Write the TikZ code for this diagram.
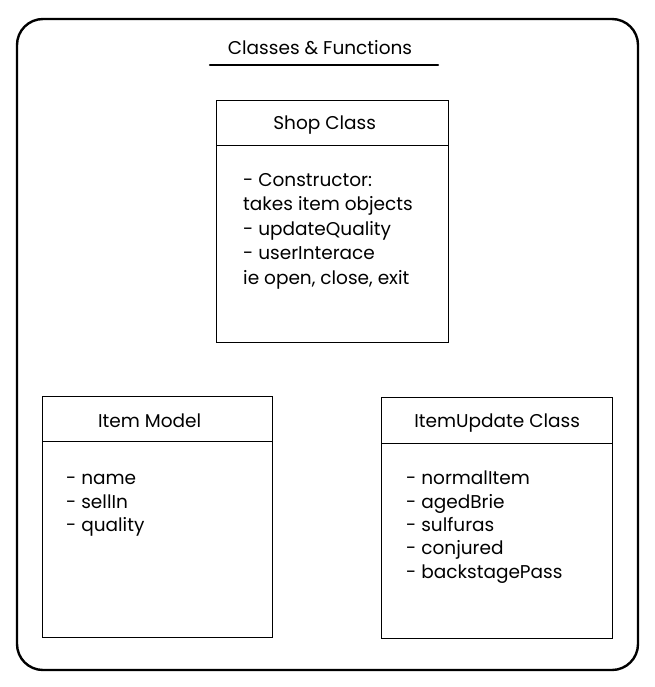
\documentclass[tikz,border=0pt]{standalone}
\usepackage{fontspec}
\setmainfont{Poppins}
\begin{document}
\begin{tikzpicture}[x=1pt,y=-1pt,
  frame/.style={draw=black, line width=2.4pt, rounded corners=26pt},
  rule/.style={draw=black, line width=2.4pt, line cap=round},
  head/.style={draw=black, line width=1.3pt, anchor=north west, inner sep=0pt,
    minimum width=#1, minimum height=45pt},
  body/.style={draw=black, line width=1.3pt, anchor=north west, inner sep=0pt,
    minimum width=#1},
  label text/.style={inner sep=0pt, yshift=-2pt, font=\fontsize{18.5}{22}\selectfont},
  entry/.style={anchor=base west, inner sep=0pt, font=\fontsize{18.5}{22}\selectfont},
  titletext/.style={anchor=base, inner sep=0pt, font=\fontsize{18.5}{22}\selectfont}
]
\useasboundingbox (0,0) rectangle (654,687);

% outer frame
\draw[frame] (17,19) rectangle (638,670);

% heading with underline
\node[titletext] (title) at (320,54.5) {Classes \& Functions};
\coordinate (ulL) at (210,65);
\coordinate (ulR) at (438,65);
\draw[rule] (ulL) -- (ulR);

% Shop class
\node[head=232pt] (shopH) at (216,100) {};
\node[label text, xshift=-8pt] (shopT) at (shopH.center) {Shop Class};
\node[body=232pt, minimum height=197pt] (shopB) at (216,145) {};
\node[entry] (s1) at (243,186) {- Constructor:};
\node[entry] (s2) at (243,210.5) {takes item objects};
\node[entry] (s3) at (243,235) {- updateQuality};
\node[entry] (s4) at (243,259.5) {- userInterace};
\node[entry] (s5) at (243,284) {ie open, close, exit};

% Item model
\node[head=230pt] (itemH) at (42,396) {};
\node[label text, xshift=-8pt] (itemT) at (itemH.center) {Item Model};
\node[body=230pt, minimum height=196pt] (itemB) at (42,441) {};
\node[entry] (i1) at (66,484) {- name};
\node[entry] (i2) at (66,508) {- sellIn};
\node[entry] (i3) at (66,531) {- quality};

% ItemUpdate class
\node[head=231pt, minimum height=46pt] (updH) at (381,397) {};
\node[label text] (updT) at (updH.center) {ItemUpdate Class};
\node[body=231pt, minimum height=195pt] (updB) at (381,443) {};
\node[entry] (u1) at (406,484) {- normalItem};
\node[entry] (u2) at (406,508) {- agedBrie};
\node[entry] (u3) at (406,531) {- sulfuras};
\node[entry] (u4) at (406,554) {- conjured};
\node[entry] (u5) at (406,578) {- backstagePass};
\end{tikzpicture}
\end{document}
